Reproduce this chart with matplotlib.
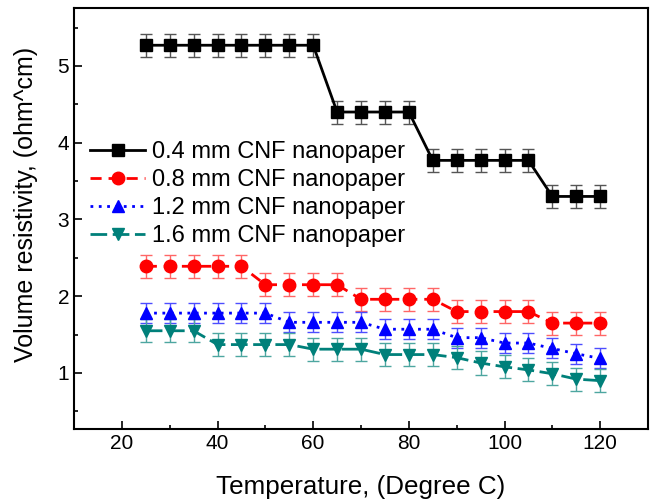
import numpy as np
from matplotlib import pyplot as plt

plt.rcParams['font.family'] = ['Liberation Sans', 'DejaVu Sans']

temps = [25, 30, 35, 40, 45, 50, 55, 60, 65, 70, 75, 80, 85, 90, 95, 100, 105, 110, 115, 120]

r04 = [5.27, 5.27, 5.27, 5.27, 5.27, 5.27, 5.27, 5.27, 4.40, 4.40, 4.40, 4.40,
       3.77, 3.77, 3.77, 3.77, 3.77, 3.30, 3.30, 3.30]
r08 = [2.39, 2.39, 2.39, 2.39, 2.39, 2.15, 2.15, 2.15, 2.15, 1.96, 1.96, 1.96,
       1.96, 1.80, 1.80, 1.80, 1.80, 1.65, 1.65, 1.65]
r12 = [1.78, 1.78, 1.78, 1.78, 1.78, 1.78, 1.66, 1.66, 1.66, 1.66, 1.57, 1.57,
       1.57, 1.46, 1.46, 1.39, 1.39, 1.32, 1.25, 1.19]
r16 = [1.55, 1.55, 1.55, 1.37, 1.37, 1.37, 1.37, 1.31, 1.31, 1.31, 1.24, 1.24,
       1.24, 1.20, 1.13, 1.08, 1.04, 0.99, 0.92, 0.90]

err04 = [0.15] * len(temps)
err08 = [0.15] * len(temps)
err12 = [0.13] * len(temps)
err16 = [0.15] * len(temps)

labels = ['0.4 mm CNF nanopaper', '0.8 mm CNF nanopaper',
          '1.2 mm CNF nanopaper', '1.6 mm CNF nanopaper']

fig = plt.figure(figsize=(6.51, 5.01), dpi=100)
ax = fig.add_axes([0.1137, 0.1437, 0.8817, 0.8403])

# error bars first, lighter colours
ax.errorbar(temps, r04, yerr=err04, fmt='none', ecolor='#555555', elinewidth=1, capsize=4)
ax.errorbar(temps, r08, yerr=err08, fmt='none', ecolor='#ff6666', elinewidth=1, capsize=4)
ax.errorbar(temps, r12, yerr=err12, fmt='none', ecolor='#4d4dff', elinewidth=1, capsize=4)
ax.errorbar(temps, r16, yerr=err16, fmt='none', ecolor='#4da6a0', elinewidth=1, capsize=4)

ax.plot(temps, r04, color='black', ls='-', lw=2, marker='s', ms=8.5, label=labels[0])
ax.plot(temps, r08, color='red', ls=(0, (4, 2.5)), lw=2, marker='o', ms=9, label=labels[1])
ax.plot(temps, r12, color='blue', ls=(0, (1, 2)), lw=2, marker='^', ms=9, label=labels[2])
ax.plot(temps, r16, color='#00807a', ls=(0, (6, 2)), lw=2, marker='v', ms=9, label=labels[3])

ax.set_xlim(10, 130)
ax.set_ylim(0.27, 5.755)
ax.set_xticks([20, 40, 60, 80, 100, 120])
ax.set_xticks([30, 50, 70, 90, 110], minor=True)
ax.set_yticks([1, 2, 3, 4, 5])
ax.set_yticks([0.5, 1.5, 2.5, 3.5, 4.5, 5.5], minor=True)
ax.tick_params(which='major', direction='in', length=6, width=1.2, labelsize=15, top=False, right=False)
ax.tick_params(which='minor', direction='in', length=3, width=1.2, top=False, right=False)
for s in ax.spines.values():
    s.set_linewidth(1.5)

ax.set_xlabel('Temperature, (Degree C)', fontsize=18.7, labelpad=16)
ax.set_ylabel('Volume resistivity, (ohm^cm)', fontsize=18)
ax.yaxis.set_label_coords(-0.062, 0.533)

ax.legend(loc='upper left', bbox_to_anchor=(-0.009, 0.735), frameon=False, fontsize=17,
          handlelength=2.33, handletextpad=0.3, labelspacing=0.26)

fig.savefig('out.png', dpi=100)
